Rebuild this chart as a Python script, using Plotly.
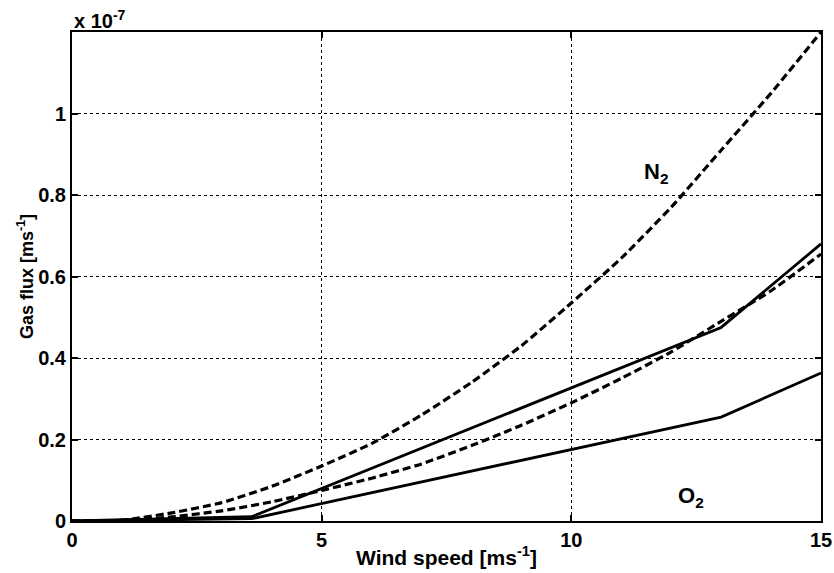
import plotly.graph_objects as go

# Wind speed (m/s) and gas flux values (in units of 1e-7 m/s)
wind_curve = [0, 1, 2, 3, 4, 5, 6, 7, 8, 9, 10, 11, 12, 13, 14, 15]
n2_upper = [0, 0.002, 0.02, 0.045, 0.085, 0.135, 0.19, 0.26, 0.34, 0.43,
            0.535, 0.645, 0.77, 0.91, 1.05, 1.2]
n2_lower = [0, 0.001, 0.01, 0.025, 0.047, 0.075, 0.105, 0.14, 0.185, 0.235,
            0.29, 0.35, 0.415, 0.49, 0.565, 0.655]

wind_piecewise = [0, 3.6, 13, 15]
n2_piecewise = [0, 0.0106, 0.475, 0.68]
o2_piecewise = [0, 0.0057, 0.255, 0.363]

y_ticks = [0, 0.2, 0.4, 0.6, 0.8, 1.0]
y_tick_labels = ["0", "0.2", "0.4", "0.6", "0.8", "1"]
x_ticks = [0, 5, 10, 15]
x_tick_labels = ["0", "5", "10", "15"]

FONT = "Liberation Sans"


def bold(s):
    return "<b>" + s + "</b>"


def bfont(size):
    return dict(family=FONT, size=size, color="black", weight="bold")


fig = go.Figure()

dash_style = "8px,4px"
for ys in (n2_upper, n2_lower):
    fig.add_trace(go.Scatter(
        x=wind_curve, y=ys, mode="lines",
        line=dict(color="black", width=3.2, dash=dash_style, shape="spline", smoothing=0.5),
        showlegend=False, hoverinfo="skip"))

for ys in (n2_piecewise, o2_piecewise):
    fig.add_trace(go.Scatter(
        x=wind_piecewise, y=ys, mode="lines",
        line=dict(color="black", width=2.8),
        showlegend=False, hoverinfo="skip"))

axis_common = dict(
    showline=True, linecolor="black", linewidth=2, mirror="ticks",
    ticks="inside", ticklen=6, tickwidth=1.5, tickcolor="black",
    showgrid=True, gridcolor="black", gridwidth=1, griddash="dot",
    zeroline=False, automargin=False,
    tickfont=bfont(20),
)

fig.update_xaxes(range=[0, 15], tickvals=x_ticks,
                 ticktext=[bold(t) for t in x_tick_labels], **axis_common,
                 title=dict(text=bold("Wind speed [ms<sup>-1</sup>]"),
                            font=bfont(21), standoff=0))
fig.update_yaxes(range=[0, 1.2], tickvals=y_ticks,
                 ticktext=[bold(t) for t in y_tick_labels], **axis_common,
                 title=dict(text=bold("Gas flux [ms<sup>-1</sup>]"),
                            font=bfont(18), standoff=0))

fig.add_annotation(x=11.7, y=0.855, text=bold("N<sub>2</sub>"), showarrow=False,
                   font=bfont(22))
fig.add_annotation(x=12.4, y=0.06, text=bold("O<sub>2</sub>"), showarrow=False,
                   font=bfont(22))
fig.add_annotation(xref="paper", yref="paper", x=0, y=1, xanchor="left", yanchor="bottom",
                   yshift=-2, text=bold("x 10<sup>-7</sup>"), showarrow=False,
                   font=bfont(20))

fig.update_layout(
    width=834, height=573,
    margin=dict(l=72, r=13, t=32, b=52),
    paper_bgcolor="white", plot_bgcolor="white",
)

fig.write_html("out.html")
